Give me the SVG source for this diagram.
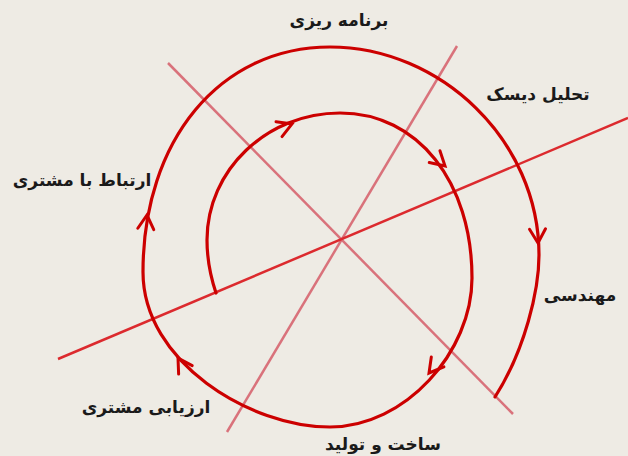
<svg xmlns="http://www.w3.org/2000/svg" width="628" height="456" viewBox="0 0 628 456">
  <style>
    .lbl { font-family: "DejaVu Sans", "Noto Sans", sans-serif; font-size: 17px; font-weight: bold; fill: #1a1a1a; text-anchor: middle; direction: rtl; }
    .axis-pink { stroke: #d9727b; stroke-width: 2.5; fill: none; }
    .axis-red { stroke: #dc2a2e; stroke-width: 2.5; fill: none; }
    .spiral { stroke: #cc0000; stroke-width: 3.2; fill: none; stroke-linecap: round; stroke-linejoin: round; }
    .head { stroke: #cc0000; stroke-width: 3; fill: none; stroke-linecap: round; stroke-linejoin: miter; }
  </style>
  <defs>
    <path id="chev" d="M-14,-8 L0,0 L-14,8"/>
  </defs>
  <rect width="628" height="456" fill="#eeebe4"/>

  <g id="connectors">
    <line class="axis-pink" x1="168" y1="63" x2="513" y2="414"/>
    <line class="axis-pink" x1="457" y1="46" x2="227" y2="432"/>
    <line class="axis-red" x1="58" y1="359" x2="628" y2="118"/>
    <path class="spiral" d="M216,293 C210,275 207,258 207,240 C207,170 267,113 340,113 C418,113 472,182 472,278 C472,352 405,427 330,427 C250,427 143,362 143,272 C143,140 220,47 330,47 C440,47 539,140 539,255 C539,290 525,350 495,397"/>
    <g class="head">
      <use href="#chev" transform="translate(292,124) rotate(-22)"/>
      <use href="#chev" transform="translate(445,166) rotate(42)"/>
      <use href="#chev" transform="translate(429,373) rotate(128)"/>
      <use href="#chev" transform="translate(178,358) rotate(-122)"/>
      <use href="#chev" transform="translate(147,215) rotate(-85)"/>
      <use href="#chev" transform="translate(538,243) rotate(88)"/>
    </g>
  </g>

  <g id="planning"><text class="lbl" x="339" y="26">برنامه ریزی</text></g>
  <g id="risk-analysis"><text class="lbl" x="538" y="100">تحلیل دیسک</text></g>
  <g id="customer-communication"><text class="lbl" x="82" y="186">ارتباط با مشتری</text></g>
  <g id="engineering"><text class="lbl" x="580" y="301">مهندسی</text></g>
  <g id="customer-evaluation"><text class="lbl" x="146" y="413">ارزیابی مشتری</text></g>
  <g id="construction"><text class="lbl" x="383" y="450">ساخت و تولید</text></g>
</svg>
